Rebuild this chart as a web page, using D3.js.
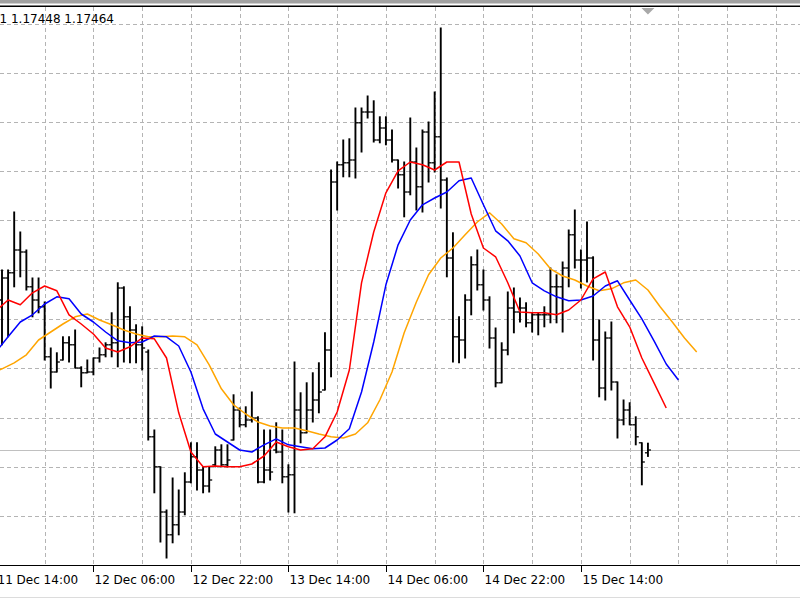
<!DOCTYPE html>
<html>
<head>
<meta charset="utf-8">
<script src="https://cdnjs.cloudflare.com/ajax/libs/d3/7.8.5/d3.min.js"></script>
<style>
  html, body { margin: 0; padding: 0; background: #fff; }
  svg { display: block; }
  .labels { font-family: "DejaVu Sans", sans-serif; font-size: 12px; fill: #000; }
</style>
</head>
<body>
<div id="chart"></div>
<script>
// ---- data (H1 bars, index 0 = 11 Dec 15:00) ----
var symbolInfo = "EURUSD,H1  1.17457 1.17481 1.17448 1.17464";
var bidPrice = 1.17464;

var barOpen = [1.17839,1.17894,1.17907,1.17964,1.17959,1.17872,1.17839,1.17822,1.17697,1.17659,
  1.17689,1.17732,1.17727,1.17669,1.17657,1.17659,1.17694,1.17702,1.17727,1.17732,
  1.17869,1.17797,1.17764,1.17727,1.17709,1.17497,1.17422,1.17309,1.17252,1.17277,
  1.17309,1.17384,1.17447,1.17414,1.17374,1.17427,1.17464,1.17427,1.17489,1.17564,
  1.17527,1.17539,1.17544,1.17384,1.17414,1.17464,1.17459,1.17397,1.17402,1.17564,
  1.17507,1.17564,1.17589,1.17614,1.17714,1.18134,1.18177,1.18182,1.18189,1.18282,
  1.18309,1.18309,1.18239,1.18269,1.18239,1.18189,1.18152,1.18109,1.18184,1.18122,
  1.18259,1.18182,1.18247,1.18139,1.17944,1.17747,1.17739,1.17839,1.17927,1.17877,
  1.17839,1.17744,1.17632,1.17714,1.17819,1.17809,1.17819,1.17782,1.17802,1.17802,
  1.17802,1.17872,1.17872,1.17919,1.18002,1.17939,1.17939,1.17944,1.17739,1.17619,
  1.17744,1.17634,1.17539,1.17564,1.17527,1.17482,1.17457];

var barHigh = [1.17914,1.17914,1.18059,1.18009,1.17964,1.17894,1.17894,1.17834,1.17719,1.17707,
  1.17747,1.17747,1.17764,1.17672,1.17689,1.17694,1.17719,1.17732,1.17807,1.17882,
  1.17872,1.17822,1.17777,1.17772,1.17714,1.17514,1.17422,1.17314,1.17394,1.17364,
  1.17407,1.17482,1.17482,1.17422,1.17422,1.17472,1.17477,1.17477,1.17602,1.17569,
  1.17572,1.17609,1.17547,1.17514,1.17514,1.17532,1.17514,1.17427,1.17684,1.17607,
  1.17632,1.17657,1.17682,1.17757,1.18164,1.18184,1.18239,1.18242,1.18319,1.18319,
  1.18349,1.18337,1.18297,1.18297,1.18264,1.18189,1.18184,1.18294,1.18219,1.18264,
  1.18284,1.18359,1.18519,1.18144,1.18007,1.17797,1.17852,1.17947,1.17964,1.17914,
  1.17847,1.17769,1.17732,1.17859,1.17869,1.17844,1.17832,1.17807,1.17807,1.17822,
  1.17919,1.17902,1.17934,1.18014,1.18064,1.17964,1.18034,1.17947,1.17789,1.17759,
  1.17784,1.17634,1.17589,1.17582,1.17547,1.17482,1.17481];

var barLow = [1.17727,1.17747,1.17872,1.17897,1.17864,1.17797,1.17807,1.17689,1.17619,1.17659,
  1.17689,1.17684,1.17669,1.17622,1.17657,1.17652,1.17684,1.17697,1.17697,1.17672,
  1.17684,1.17682,1.17682,1.17664,1.17489,1.17357,1.17234,1.17194,1.17232,1.17252,
  1.17302,1.17382,1.17364,1.17357,1.17359,1.17422,1.17422,1.17422,1.17489,1.17522,
  1.17522,1.17534,1.17382,1.17382,1.17389,1.17457,1.17382,1.17309,1.17307,1.17482,
  1.17507,1.17534,1.17557,1.17614,1.17647,1.18064,1.18147,1.18147,1.18144,1.18209,
  1.18294,1.18234,1.18232,1.18227,1.18184,1.18119,1.18047,1.18102,1.18064,1.18059,
  1.18134,1.18159,1.18069,1.17897,1.17684,1.17682,1.17694,1.17802,1.17864,1.17814,
  1.17719,1.17622,1.17632,1.17702,1.17757,1.17784,1.17772,1.17759,1.17752,1.17772,
  1.17782,1.17782,1.17759,1.17872,1.17919,1.17869,1.17884,1.17689,1.17597,1.17589,
  1.17614,1.17494,1.17527,1.17527,1.17477,1.17377,1.17448];

var barClose = [1.17894,1.17907,1.17964,1.17959,1.17872,1.17839,1.17822,1.17697,1.17659,1.17684,
  1.17732,1.17727,1.17669,1.17657,1.17659,1.17694,1.17702,1.17727,1.17732,1.17869,
  1.17797,1.17764,1.17727,1.17719,1.17497,1.17422,1.17309,1.17252,1.17277,1.17309,
  1.17384,1.17447,1.17414,1.17374,1.17389,1.17464,1.17427,1.17439,1.17564,1.17527,
  1.17539,1.17544,1.17384,1.17414,1.17409,1.17459,1.17397,1.17402,1.17564,1.17507,
  1.17564,1.17589,1.17609,1.17714,1.18134,1.18177,1.18182,1.18189,1.18282,1.18309,
  1.18309,1.18239,1.18269,1.18239,1.18189,1.18152,1.18109,1.18184,1.18122,1.18259,
  1.18182,1.18247,1.18139,1.17944,1.17747,1.17739,1.17839,1.17927,1.17877,1.17839,
  1.17744,1.17632,1.17714,1.17819,1.17809,1.17819,1.17782,1.17802,1.17802,1.17802,
  1.17872,1.17872,1.17919,1.18002,1.17939,1.17939,1.17944,1.17739,1.17619,1.17744,
  1.17634,1.17539,1.17564,1.17527,1.17497,1.17434,1.17464];

// shifted moving averages, read every 2nd bar
var maStep = 2;
var redStart = -1;   // lips, shift 3
var redLine = [1.17812,1.17839,1.17827,1.17857,1.17874,1.17862,1.17802,1.17779,1.17754,1.17719,
  1.17709,1.17722,1.17744,1.17742,1.17694,1.17557,1.17459,1.17422,1.17424,1.17422,
  1.17422,1.17429,1.17449,1.17484,1.17472,1.17464,1.17467,1.17497,1.17559,1.17664,
  1.17882,1.18009,1.18107,1.18162,1.18184,1.18177,1.18164,1.18184,1.18184,1.18054,
  1.17969,1.17947,1.17882,1.17809,1.17807,1.17807,1.17802,1.17814,1.17839,1.17892,
  1.17909,1.17822,1.17772,1.17694,1.17632,1.17569];
var blueStart = -1;  // teeth, shift 5
var blueLine = [1.17709,1.17747,1.17784,1.17802,1.17829,1.17847,1.17842,1.17804,1.17784,1.17759,
  1.17737,1.17732,1.17734,1.17749,1.17747,1.17724,1.17659,1.17567,1.17504,1.17484,
  1.17464,1.17459,1.17477,1.17492,1.17477,1.17472,1.17467,1.17469,1.17489,1.17517,
  1.17609,1.17734,1.17877,1.17977,1.18039,1.18077,1.18094,1.18109,1.18137,1.18144,
  1.18077,1.18012,1.17987,1.17949,1.17882,1.17862,1.17847,1.17837,1.17839,1.17849,
  1.17874,1.17887,1.17839,1.17792,1.17737,1.17679,1.17639];
var orangeStart = -2; // jaw, shift 8
var orangeLine = [1.17654,1.17667,1.17682,1.17702,1.17739,1.17759,1.17779,1.17797,1.17804,1.17789,
  1.17777,1.17764,1.17754,1.17747,1.17747,1.17749,1.17747,1.17727,1.17677,1.17617,
  1.17577,1.17554,1.17534,1.17524,1.17519,1.17519,1.17512,1.17504,1.17497,1.17494,
  1.17504,1.17532,1.17589,1.17659,1.17757,1.17834,1.17902,1.17944,1.17969,1.18002,
  1.18034,1.18057,1.18029,1.17992,1.17982,1.17954,1.17917,1.17899,1.17889,1.17874,
  1.17862,1.17867,1.17882,1.17889,1.17864,1.17822,1.17784,1.17744,1.17709];

var timeTickBars = [-1, 15, 31, 47, 63, 79, 95];
var timeTickLabels = ["11 Dec 14:00", "12 Dec 06:00", "12 Dec 22:00", "13 Dec 14:00",
  "14 Dec 06:00", "14 Dec 22:00", "15 Dec 14:00"];
var gridPrices = [1.18530, 1.18407, 1.18284, 1.18161, 1.18038, 1.17915,
  1.17792, 1.17668, 1.17545, 1.17422, 1.17299];

/**
 * Bar chart object in the style of a trading terminal window
 */
function TerminalChart(_parentElement, _config) {
  this.parentElement = _parentElement;
  this.config = _config;
  this.initVis();
}

TerminalChart.prototype.initVis = function () {
  var vis = this;

  vis.width = vis.config.width;
  vis.height = vis.config.height;
  vis.top = 7;
  vis.bottom = 565;

  vis.svg = d3.select("#" + vis.parentElement).append("svg")
      .attr("width", vis.width)
      .attr("height", vis.height);

  // bar index -> pixel, 16 bars every 97.5px
  vis.x = d3.scaleLinear().domain([0, 16]).range([2, 99.5]);
  // price -> pixel, 4px per pip
  vis.y = d3.scaleLinear().domain([1.17464, 1.18464]).range([450, 50]);

  vis.svg.append("clipPath").attr("id", "plot-clip")
    .append("rect")
      .attr("x", 0).attr("y", vis.top)
      .attr("width", vis.width).attr("height", vis.bottom - vis.top);

  vis.renderVis();
};

TerminalChart.prototype.renderVis = function () {
  var vis = this;

  // window frame at the top
  vis.svg.append("rect").attr("x", 0).attr("y", 0)
      .attr("width", vis.width).attr("height", 3.5).attr("fill", "#a2a2a2");
  vis.svg.append("line").attr("x1", 0).attr("x2", vis.width)
      .attr("y1", 6.2).attr("y2", 6.2)
      .attr("stroke", "#000").attr("stroke-width", 1.6);

  var plot = vis.svg.append("g").attr("clip-path", "url(#plot-clip)");

  // grid
  plot.selectAll("line.hgrid")
    .data(gridPrices)
    .enter().append("line")
      .attr("class", "hgrid")
      .attr("x1", 0).attr("x2", vis.width)
      .attr("y1", d => Math.round(vis.y(d)) + 0.5)
      .attr("y2", d => Math.round(vis.y(d)) + 0.5)
      .attr("stroke", "#b4b4b4")
      .attr("stroke-dasharray", "4,3");

  plot.selectAll("line.vgrid")
    .data(d3.range(7, 131, 8))
    .enter().append("line")
      .attr("class", "vgrid")
      .attr("x1", d => Math.round(vis.x(d)) + 0.5)
      .attr("x2", d => Math.round(vis.x(d)) + 0.5)
      .attr("y1", vis.top).attr("y2", vis.bottom)
      .attr("stroke", "#b4b4b4")
      .attr("stroke-dasharray", "4,3");

  // bid line
  plot.append("line")
      .attr("x1", 0).attr("x2", vis.width)
      .attr("y1", Math.round(vis.y(bidPrice)) + 0.5)
      .attr("y2", Math.round(vis.y(bidPrice)) + 0.5)
      .attr("stroke", "#c0c0c0");

  // OHLC bars
  var bar = plot.selectAll("g.bar")
    .data(barClose)
    .enter().append("g")
      .attr("class", "bar")
      .attr("transform", (d, i) => "translate(" + vis.x(i) + ",0)");

  bar.append("line")
      .attr("y1", (d, i) => vis.y(barHigh[i]) - 0.5)
      .attr("y2", (d, i) => vis.y(barLow[i]) + 0.5)
      .attr("stroke", "#000").attr("stroke-width", 1.9);
  bar.append("line")
      .attr("x1", -3).attr("x2", 0)
      .attr("y1", (d, i) => vis.y(barOpen[i]))
      .attr("y2", (d, i) => vis.y(barOpen[i]))
      .attr("stroke", "#000").attr("stroke-width", 1.3);
  bar.append("line")
      .attr("x1", 0).attr("x2", 3)
      .attr("y1", d => vis.y(d))
      .attr("y2", d => vis.y(d))
      .attr("stroke", "#000").attr("stroke-width", 1.3);

  // moving averages
  var series = [
    {values: orangeLine, start: orangeStart, color: "#ffa500"},
    {values: blueLine, start: blueStart, color: "#0000ff"},
    {values: redLine, start: redStart, color: "#ff0000"}
  ];
  series.forEach(function (s) {
    var line = d3.line()
        .x((d, i) => vis.x(s.start + i * maStep))
        .y(d => vis.y(d));
    plot.append("path")
        .datum(s.values)
        .attr("d", line)
        .attr("fill", "none")
        .attr("stroke", s.color)
        .attr("stroke-width", 1.5)
        .attr("stroke-linejoin", "round");
  });

  // chart shift marker
  var mx = vis.x(barClose.length - 1);
  vis.svg.append("path")
      .attr("d", "M" + (mx - 6.5) + ",8L" + (mx + 6.5) + ",8L" + mx + ",14.5Z")
      .attr("fill", "#a8a8a8");

  // time axis
  vis.svg.append("line")
      .attr("x1", 0).attr("x2", vis.width)
      .attr("y1", vis.bottom + 0.5).attr("y2", vis.bottom + 0.5)
      .attr("stroke", "#000");

  var tick = vis.svg.selectAll("g.tick")
    .data(timeTickBars)
    .enter().append("g")
      .attr("class", "tick")
      .attr("transform", d => "translate(" + (Math.round(vis.x(d)) + 0.5) + ",0)");
  tick.append("line")
      .attr("y1", vis.bottom).attr("y2", vis.bottom + 7)
      .attr("stroke", "#000");
  tick.append("text")
      .attr("class", "labels")
      .attr("x", 1).attr("y", 584)
      .text((d, i) => timeTickLabels[i]);

  vis.svg.append("line")
      .attr("x1", 0).attr("x2", vis.width)
      .attr("y1", 597.5).attr("y2", 597.5)
      .attr("stroke", "#dcdcdc");

  // header info
  vis.svg.append("text")
      .attr("class", "labels")
      .attr("x", 114).attr("y", 22.5)
      .style("text-anchor", "end")
      .text(symbolInfo);
};

new TerminalChart("chart", {width: 800, height: 600});
</script>
</body>
</html>
